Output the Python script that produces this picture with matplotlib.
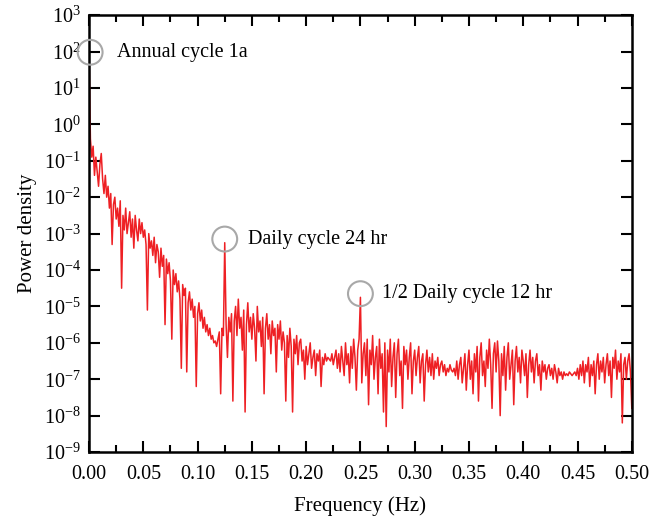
import matplotlib
matplotlib.use("Agg")
import matplotlib.pyplot as plt
import numpy as np
from matplotlib.ticker import MultipleLocator, LogLocator, NullLocator

plt.rcParams['font.family'] = ['Liberation Serif', 'DejaVu Serif']
plt.rcParams['mathtext.fontset'] = 'custom'
plt.rcParams['mathtext.rm'] = 'Liberation Serif'
plt.rcParams['mathtext.it'] = 'Liberation Serif:italic'
plt.rcParams['mathtext.bf'] = 'Liberation Serif:bold'

# log10 of power density, step 0.00125 Hz from 0 to 0.5 Hz
log_power = [
    2.0, -0.4, -0.9, -0.6, -1.4, -0.9, -1.3, -1.7, -1.1, -0.8, -1.5, -1.9, -1.4, -2.0, -1.7, -2.3, -1.9, -3.3, -2.2, -2.0,
    -2.6, -2.3, -2.8, -2.1, -4.5, -2.5, -2.9, -2.3, -3.0, -2.7, -2.4, -3.1, -2.6, -3.4, -2.5, -2.9, -3.2, -2.6, -3.0, -2.7,
    -3.1, -2.9, -3.3, -5.1, -3.0, -3.4, -3.2, -3.6, -3.1, -3.8, -3.3, -3.5, -4.2, -3.4, -3.9, -3.6, -5.5, -3.7, -4.1, -3.8,
    -4.3, -5.9, -4.0, -4.4, -4.1, -4.6, -4.3, -4.8, -6.7, -4.4, -4.7, -4.5, -6.8, -4.9, -4.6, -5.1, -4.8, -5.3, -5.0, -7.2,
    -5.2, -4.9, -5.4, -5.1, -5.6, -5.3, -5.7, -5.5, -5.8, -5.6, -5.9, -5.8, -6.0, -5.95, -6.1, -5.9, -5.7, -7.4, -5.6, -5.8,
    -3.25, -5.5, -6.4, -5.3, -5.7, -5.2, -7.6, -5.4, -5.0, -5.8, -4.8, -5.6, -5.3, -6.2, -5.1, -7.9, -5.5, -4.9, -5.7, -5.3,
    -5.9, -5.2, -5.6, -6.5, -5.0, -5.7, -5.4, -6.1, -5.3, -7.4, -5.6, -5.2, -5.9, -5.5, -6.3, -5.4, -5.8, -5.6, -6.8, -5.5,
    -5.9, -5.4, -6.2, -5.7, -6.0, -7.6, -5.8, -6.4, -5.6, -6.1, -7.9, -5.9, -6.3, -5.8, -6.6, -6.0, -5.9, -6.5, -6.2, -7.0,
    -6.1, -6.6, -6.3, -6.0, -6.7, -6.4, -6.2, -6.9, -6.3, -6.5, -6.2, -7.2, -6.4, -6.6, -6.3, -6.5, -6.4, -6.45, -6.5, -6.3,
    -6.6, -6.4, -6.2, -6.7, -6.3, -6.8, -6.1, -6.5, -6.9, -6.0, -6.6, -6.3, -7.1, -6.1, -6.7, -5.9, -6.4, -7.3, -6.2, -5.9,
    -4.75, -7.1, -6.3, -6.0, -6.9, -5.9, -7.7, -6.2, -6.6, -5.8, -7.0, -6.4, -6.1, -7.4, -5.9, -6.7, -6.3, -7.9, -6.0, -8.3,
    -6.2, -6.8, -5.9, -7.2, -6.4, -6.0, -7.5, -6.3, -5.9, -6.9, -6.5, -7.8, -6.1, -6.6, -6.2, -7.0, -6.4, -6.0, -7.4, -6.5,
    -6.2, -6.9, -6.4, -6.1, -7.1, -6.5, -6.3, -7.6, -6.6, -6.2, -6.8, -6.4, -6.9, -6.3, -7.0, -6.5, -6.7, -6.4, -6.9, -6.6,
    -6.5, -6.8, -6.6, -6.9, -6.7, -6.8, -6.6, -6.75, -6.8, -6.7, -6.9, -6.5, -7.0, -6.6, -6.4, -7.1, -6.7, -6.3, -7.3, -6.6,
    -6.2, -7.0, -6.5, -7.4, -6.3, -6.8, -6.1, -7.6, -6.4, -6.0, -6.9, -6.5, -7.2, -6.2, -6.7, -5.9, -6.6, -7.8, -6.3, -6.0,
    -6.8, -5.95, -6.5, -8.0, -6.3, -6.9, -6.1, -7.3, -6.4, -6.0, -7.0, -6.6, -6.2, -7.7, -6.5, -6.1, -6.8, -6.4, -7.1, -6.2,
    -6.5, -6.9, -6.3, -7.5, -6.6, -6.2, -6.8, -6.4, -7.1, -6.5, -6.3, -6.9, -6.6, -7.3, -6.5, -6.8, -6.6, -7.0, -6.7, -6.6,
    -6.9, -6.7, -7.0, -6.6, -6.8, -7.1, -6.7, -6.9, -6.8, -7.0, -6.8, -6.9, -6.85, -6.9, -6.8, -6.85, -6.9, -6.85, -6.8, -6.9,
    -6.7, -7.0, -6.6, -6.9, -6.5, -7.1, -6.6, -6.8, -6.4, -7.2, -6.6, -6.9, -6.5, -7.4, -6.6, -6.3, -7.0, -6.5, -6.8, -6.4,
    -7.1, -6.6, -6.3, -6.9, -6.5, -7.5, -6.4, -6.7, -6.2, -7.0, -6.5, -6.8, -6.3, -8.2, -6.6, -6.4, -7.0, -6.5, -6.3, -6.8,
    -7.8,
]
freq = np.linspace(0, 0.5, len(log_power))
power = 10.0 ** np.array(log_power)

# marked peaks: (freq, power) of circle, and label
peak_freq = [0.001, 0.125, 0.25]
peak_power = [10 ** 1.98, 10 ** -3.15, 10 ** -4.65]
peak_labels = ["Annual cycle 1a", "Daily cycle 24 hr", "1/2 Daily cycle 12 hr"]
label_freq = [0.026, 0.146, 0.270]

fig = plt.figure(figsize=(6.5, 5.22), dpi=100)
ax = fig.add_axes([0.137, 0.134, 0.835, 0.837])

ax.plot(freq, power, color='#ee2024', lw=1.1)
ax.scatter(peak_freq, peak_power, s=320, facecolors='none', edgecolors='#a8a8a8',
           linewidths=1.5, zorder=3, clip_on=False)
for fx, py, txt in zip(label_freq, peak_power, peak_labels):
    ax.text(fx, py, txt, fontsize=14.5, va='center', ha='left')

ax.set_yscale('log')
ax.set_xlim(0, 0.5)
ax.set_ylim(1e-9, 1e3)
ax.xaxis.set_major_locator(MultipleLocator(0.05))
ax.xaxis.set_minor_locator(MultipleLocator(0.025))
ax.xaxis.set_major_formatter(matplotlib.ticker.FormatStrFormatter('%.2f'))
ax.yaxis.set_major_locator(LogLocator(base=10, numticks=20))
ax.yaxis.set_minor_locator(NullLocator())

ax.tick_params(which='both', direction='in', top=True, right=True, labelsize=14.5, width=1.5)
ax.tick_params(which='major', length=8)
ax.tick_params(which='minor', length=5)
ax.tick_params(axis='x', pad=9)
ax.tick_params(axis='y', pad=6)
for s in ax.spines.values():
    s.set_linewidth(1.8)

ax.set_xlabel("Frequency (Hz)", fontsize=15, labelpad=9)
ax.set_ylabel("Power density", fontsize=15, labelpad=5)

fig.savefig("out.png", dpi=100)
